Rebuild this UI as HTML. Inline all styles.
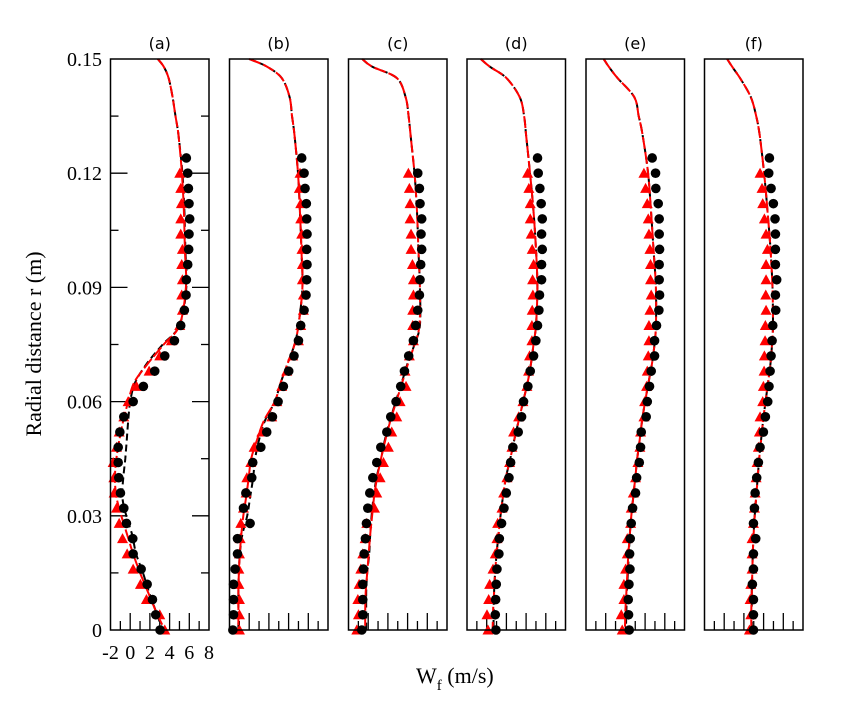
<!DOCTYPE html>
<html><head><meta charset="utf-8">
<style>
html,body{margin:0;padding:0;background:#fff;}
svg{display:block;}
</style></head>
<body>
<svg id="chart" width="862" height="714" viewBox="0 0 862 714" xmlns="http://www.w3.org/2000/svg">
  <text x="41" y="344" transform="rotate(-90 41 344)" text-anchor="middle" font-family="Liberation Serif, serif" font-size="22">Radial distance r (m)</text>
  <text x="416" y="683" font-family="Liberation Serif, serif" font-size="22">W<tspan dy="7" font-size="15">f</tspan><tspan dy="-7"> (m/s)</tspan></text>
</svg>
<script>
// Shared data
const panelNames = ['(a)','(b)','(c)','(d)','(e)','(f)'];
const yTicks = [0, 0.03, 0.06, 0.09, 0.12, 0.15];
const yTickLabels = ['0','0.03','0.06','0.09','0.12','0.15'];
const xTicks = [-2, 0, 2, 4, 6, 8];
const xTickLabels = ['-2','0','2','4','6','8'];
const lineR = [0.15,0.148,0.145,0.14,0.135,0.13,0.12,0.11,0.1,0.09,0.08,0.075,0.07,0.065,0.06,0.055,0.05,0.045,0.04,0.035,0.03,0.025,0.02,0.015,0.01,0.005,0];
const dotR = [0.124,0.12,0.116,0.112,0.108,0.104,0.1,0.096,0.092,0.088,0.084,0.08,0.076,0.072,0.068,0.064,0.06,0.056,0.052,0.048,0.044,0.04,0.036,0.032,0.028,0.024,0.02,0.016,0.012,0.008,0.004,0];
const triR = [0.12,0.116,0.112,0.108,0.104,0.1,0.096,0.092,0.088,0.084,0.08,0.076,0.072,0.068,0.064,0.06,0.056,0.052,0.048,0.044,0.04,0.036,0.032,0.028,0.024,0.02,0.016,0.012,0.008,0.004,0];

// Black dashed line values per panel
const lineBlackA = [2.8,3.4,3.9,4.3,4.6,4.9,5.3,5.5,5.6,5.7,5.0,3.3,1.7,0.5,0.0,-0.2,-0.35,-0.5,-0.7,-0.8,-0.4,0.2,0.6,1.3,1.9,2.6,3.3];
const lineBlackB = [0.0,1.8,3.3,4.1,4.35,4.6,4.95,5.15,5.3,5.4,5.0,4.6,3.9,3.2,2.6,1.6,1.0,0.6,0.4,0.1,-0.2,-0.7,-0.95,-1.05,-1.1,-1.1,-1.1];
const lineBlackC = [-0.6,0.4,2.9,3.8,4.1,4.3,4.7,4.95,5.1,5.25,5.25,4.7,4.0,3.4,2.8,2.2,1.7,1.3,0.85,0.55,0.35,0.2,0.1,-0.1,-0.2,-0.2,-0.2];
const lineBlackD = [-0.6,0.3,2.0,3.35,3.8,4.0,4.4,4.75,5.0,5.15,5.0,4.75,4.5,4.15,3.7,3.25,2.8,2.4,1.95,1.65,1.4,1.2,1.0,0.85,0.75,0.7,0.7];
const lineBlackE = [-0.2,0.3,1.2,2.9,3.35,3.75,4.3,4.6,4.85,5.1,5.1,4.95,4.7,4.35,4.0,3.7,3.45,3.2,3.0,2.8,2.6,2.45,2.35,2.25,2.15,2.1,2.05];
const lineBlackF = [0.3,0.8,1.6,2.7,3.25,3.6,4.05,4.4,4.7,4.9,4.95,4.85,4.7,4.45,4.2,3.95,3.75,3.55,3.4,3.25,3.1,2.98,2.9,2.85,2.8,2.8,2.8];
// Red dashed line values per panel
const lineRedA = [2.8,3.4,3.9,4.3,4.6,4.9,5.25,5.45,5.55,5.65,5.0,3.4,1.8,0.4,-0.2,-0.7,-1.1,-1.4,-1.55,-1.4,-0.9,-0.3,0.3,1.0,1.8,2.6,3.5];
const lineRedB = [0.0,1.8,3.3,4.1,4.35,4.6,4.95,5.15,5.3,5.4,5.0,4.6,3.9,3.2,2.6,1.5,0.8,0.2,-0.05,-0.3,-0.6,-0.8,-0.95,-1.05,-1.1,-1.1,-1.1];
const lineRedC = [-0.6,0.4,2.9,3.8,4.1,4.3,4.7,4.95,5.1,5.25,5.2,4.7,4.05,3.45,2.85,2.25,1.75,1.3,0.9,0.6,0.4,0.2,0.05,-0.1,-0.25,-0.3,-0.3];
const lineRedD = [-0.6,0.3,2.0,3.35,3.8,4.0,4.4,4.75,5.0,5.15,5.0,4.75,4.5,4.15,3.7,3.25,2.8,2.4,1.95,1.65,1.4,1.2,1.0,0.85,0.75,0.65,0.6];
const lineRedE = [-0.2,0.3,1.2,2.9,3.35,3.75,4.3,4.6,4.85,5.1,5.1,4.95,4.7,4.35,4.0,3.7,3.45,3.2,3.0,2.8,2.6,2.45,2.3,2.2,2.1,2.0,1.95];
const lineRedF = [0.3,0.8,1.6,2.7,3.25,3.6,4.05,4.4,4.7,4.9,4.95,4.85,4.7,4.45,4.2,3.95,3.75,3.55,3.4,3.25,3.1,2.98,2.9,2.85,2.8,2.75,2.75];
// Dots (black circles)
const dotsA = [5.70,5.84,5.91,5.97,6.04,5.97,5.94,5.84,5.70,5.67,5.50,5.13,4.49,3.51,2.49,1.34,0.30,-0.65,-1.05,-1.22,-1.22,-1.16,-0.99,-0.65,-0.38,0.26,0.30,1.11,1.72,2.26,2.59,3.03];
const dotsB = [5.33,5.57,5.67,5.80,5.84,5.87,5.84,5.87,5.84,5.77,5.57,5.23,5.0,4.55,4.01,3.47,2.93,2.36,1.78,1.18,0.36,0.26,-0.34,-0.58,0.09,-1.19,-1.19,-1.43,-1.59,-1.59,-1.59,-1.66];
const dotsC = [null,5.03,5.2,5.26,5.43,5.36,5.43,5.33,5.26,5.2,5.03,4.82,4.59,4.11,3.68,3.3,2.83,2.29,1.89,1.28,0.87,0.47,0.16,-0.04,-0.18,-0.28,-0.41,-0.48,-0.55,-0.55,-0.55,-0.65];
const dotsD = [5.16,5.23,5.40,5.53,5.64,5.57,5.64,5.57,5.57,5.36,5.30,5.16,4.99,4.76,4.42,4.18,3.74,3.54,3.20,2.66,2.43,2.26,1.99,1.75,1.51,1.28,1.24,1.04,0.97,0.91,0.87,0.94];
const dotsE = [4.72,5.06,5.09,5.33,5.43,5.43,5.47,5.43,5.43,5.47,5.40,5.16,4.96,4.96,4.62,4.45,4.22,4.11,3.61,3.54,3.41,3.14,3.03,2.73,2.59,2.49,2.43,2.46,2.36,2.29,2.32,2.39];
const dotsF = [4.59,4.52,4.76,4.99,5.16,5.20,5.20,5.20,5.33,5.20,5.23,4.93,4.86,4.76,4.66,4.55,4.42,4.18,3.98,3.64,3.47,3.30,3.14,3.07,2.97,3.20,2.97,2.97,2.86,2.97,2.97,2.97];
// Triangles (red)
const trisA = [5.03,5.13,5.2,5.13,5.13,5.30,5.23,5.30,5.23,5.30,5.03,4.18,3.0,1.92,0.64,-0.21,-0.65,-1.12,-1.39,-1.73,-1.66,-1.63,-1.39,-1.12,-0.78,-0.31,0.30,1.04,1.65,3.0,3.51];
const trisB = [5.16,5.09,5.23,5.23,5.33,5.36,5.40,5.40,5.50,5.50,5.23,5.0,4.42,3.81,3.30,2.80,2.29,1.28,0.5,0.16,-0.24,-0.31,-0.58,-0.85,-0.92,-0.99,-1.05,-1.05,-0.99,-0.99,-0.99];
const trisC = [4.08,4.18,4.25,4.25,4.35,4.35,4.49,4.59,4.59,4.52,4.52,4.59,4.18,3.74,3.84,3.24,2.9,2.39,2.05,1.55,1.21,0.87,0.64,-0.14,-0.31,-0.55,-0.75,-0.92,-1.05,-0.99,-1.16];
const trisD = [4.15,4.28,4.42,4.42,4.52,4.62,4.76,4.66,4.69,4.62,4.59,4.59,4.35,4.25,4.08,3.68,3.24,2.73,2.56,2.32,2.05,1.72,1.55,1.11,1.04,0.87,0.64,0.30,0.20,0.03,0.13];
const trisE = [3.88,4.05,4.22,4.32,4.39,4.49,4.55,4.55,4.62,4.49,4.39,4.39,4.32,4.22,4.15,3.95,3.88,3.54,3.47,3.27,3.03,2.80,2.59,2.53,2.19,2.19,2.02,1.85,1.85,1.58,1.68];
const trisF = [3.64,3.84,3.91,4.08,4.25,4.39,4.25,4.25,4.22,4.25,4.18,4.15,4.08,4.05,3.98,3.91,3.64,3.57,3.47,3.34,3.24,3.14,3.07,2.97,2.83,2.83,2.83,2.70,2.63,2.70,2.56];

const blackLines = [lineBlackA,lineBlackB,lineBlackC,lineBlackD,lineBlackE,lineBlackF];
const redLines = [lineRedA,lineRedB,lineRedC,lineRedD,lineRedE,lineRedF];
const dotSets = [dotsA,dotsB,dotsC,dotsD,dotsE,dotsF];
const triSets = [trisA,trisB,trisC,trisD,trisE,trisF];

const NS = 'http://www.w3.org/2000/svg';
const svgRoot = document.getElementById('chart');
const panelLeft = [110.5, 229.5, 348.5, 467, 586, 704.5];
const panelW = 98.5, topY = 59, bottomY = 630;
const letters = ['a','b','c','d','e','f'];
function yScale(r){ return bottomY - (r/0.15)*(bottomY-topY); }
function mk(tag, attrs){ const e=document.createElementNS(NS,tag); for(const k in attrs) e.setAttribute(k, attrs[k]); return e; }
function smoothPath(pts){
  let d = 'M'+pts[0][0].toFixed(1)+','+pts[0][1].toFixed(1);
  for(let i=0;i<pts.length-1;i++){
    const p0 = pts[Math.max(0,i-1)], p1 = pts[i], p2 = pts[i+1], p3 = pts[Math.min(pts.length-1,i+2)];
    const c1x = p1[0]+(p2[0]-p0[0])/6, c1y = p1[1]+(p2[1]-p0[1])/6;
    const c2x = p2[0]-(p3[0]-p1[0])/6, c2y = p2[1]-(p3[1]-p1[1])/6;
    d += 'C'+c1x.toFixed(1)+','+c1y.toFixed(1)+' '+c2x.toFixed(1)+','+c2y.toFixed(1)+' '+p2[0].toFixed(1)+','+p2[1].toFixed(1);
  }
  return d;
}

yTicks.forEach((t,i)=>{
  const tx = mk('text',{x:102, y:yScale(t)+7, 'text-anchor':'end','font-family':'Liberation Serif, serif','font-size':20});
  tx.textContent = yTickLabels[i];
  
  
  svgRoot.appendChild(tx);
});

panelLeft.forEach((px,p)=>{
  const xScale = v => px + (v+2)/10*panelW;
  const g = mk('g',{});
  
  
  svgRoot.appendChild(g);

  const title = mk('text',{x:px+panelW/2, y:49,'text-anchor':'middle','font-family':'DejaVu Sans, sans-serif','font-size':16});
  title.textContent = panelNames[p];
  
  
  g.appendChild(title);

  for(let v=-1; v<=7; v++){
    const len = (v%2===0)?17:9;
    const t = mk('line',{x1:xScale(v),x2:xScale(v),y1:bottomY,y2:bottomY-len,stroke:'#000','stroke-width':1.3});
    
    
    g.appendChild(t);
  }
  if(p===0){
    for(let k=1;k<10;k++){
      const r = k*0.015; const len = (k%2===0)?17:8;
      [[px,px+len],[px+panelW,px+panelW-len]].forEach(([a,b])=>{
        const t = mk('line',{x1:a,x2:b,y1:yScale(r),y2:yScale(r),stroke:'#000','stroke-width':1.3});
        
        
        g.appendChild(t);
      });
    }
    xTicks.forEach((v,i)=>{
      const tx = mk('text',{x:xScale(v), y:659,'text-anchor':'middle','font-family':'Liberation Serif, serif','font-size':20});
      tx.textContent = xTickLabels[i];
      
      
      g.appendChild(tx);
    });
  }

  const mkPath = (vals,color,dash,name)=>{
    const pts = vals.map((v,i)=>[xScale(v), yScale(lineR[i])]);
    const path = mk('path',{d:smoothPath(pts),fill:'none',stroke:color,'stroke-width':2,'stroke-dasharray':dash});
    
    
    g.appendChild(path);
  };
  mkPath(blackLines[p],'#000','7,4','black-dashed-line');
  mkPath(redLines[p],'#ff0000','12,3','red-dashed-line');

  triSets[p].forEach((v,i)=>{
    if(v===null) return;
    const cx = xScale(v), cy = yScale(triR[i]);
    const tri = mk('polygon',{points:`${cx-5.5},${cy+4.5} ${cx+5.5},${cy+4.5} ${cx},${cy-5.5}`,fill:'#ff0000'});
    
    
    g.appendChild(tri);
  });
  dotSets[p].forEach((v,i)=>{
    if(v===null) return;
    const c = mk('circle',{cx:xScale(v),cy:yScale(dotR[i]),r:4.8,fill:'#000'});
    
    
    g.appendChild(c);
  });

  const frame = mk('rect',{x:px,y:topY,width:panelW,height:bottomY-topY,fill:'none',stroke:'#000','stroke-width':1.5});
  
  
  g.appendChild(frame);
});
</script>
</body></html>
